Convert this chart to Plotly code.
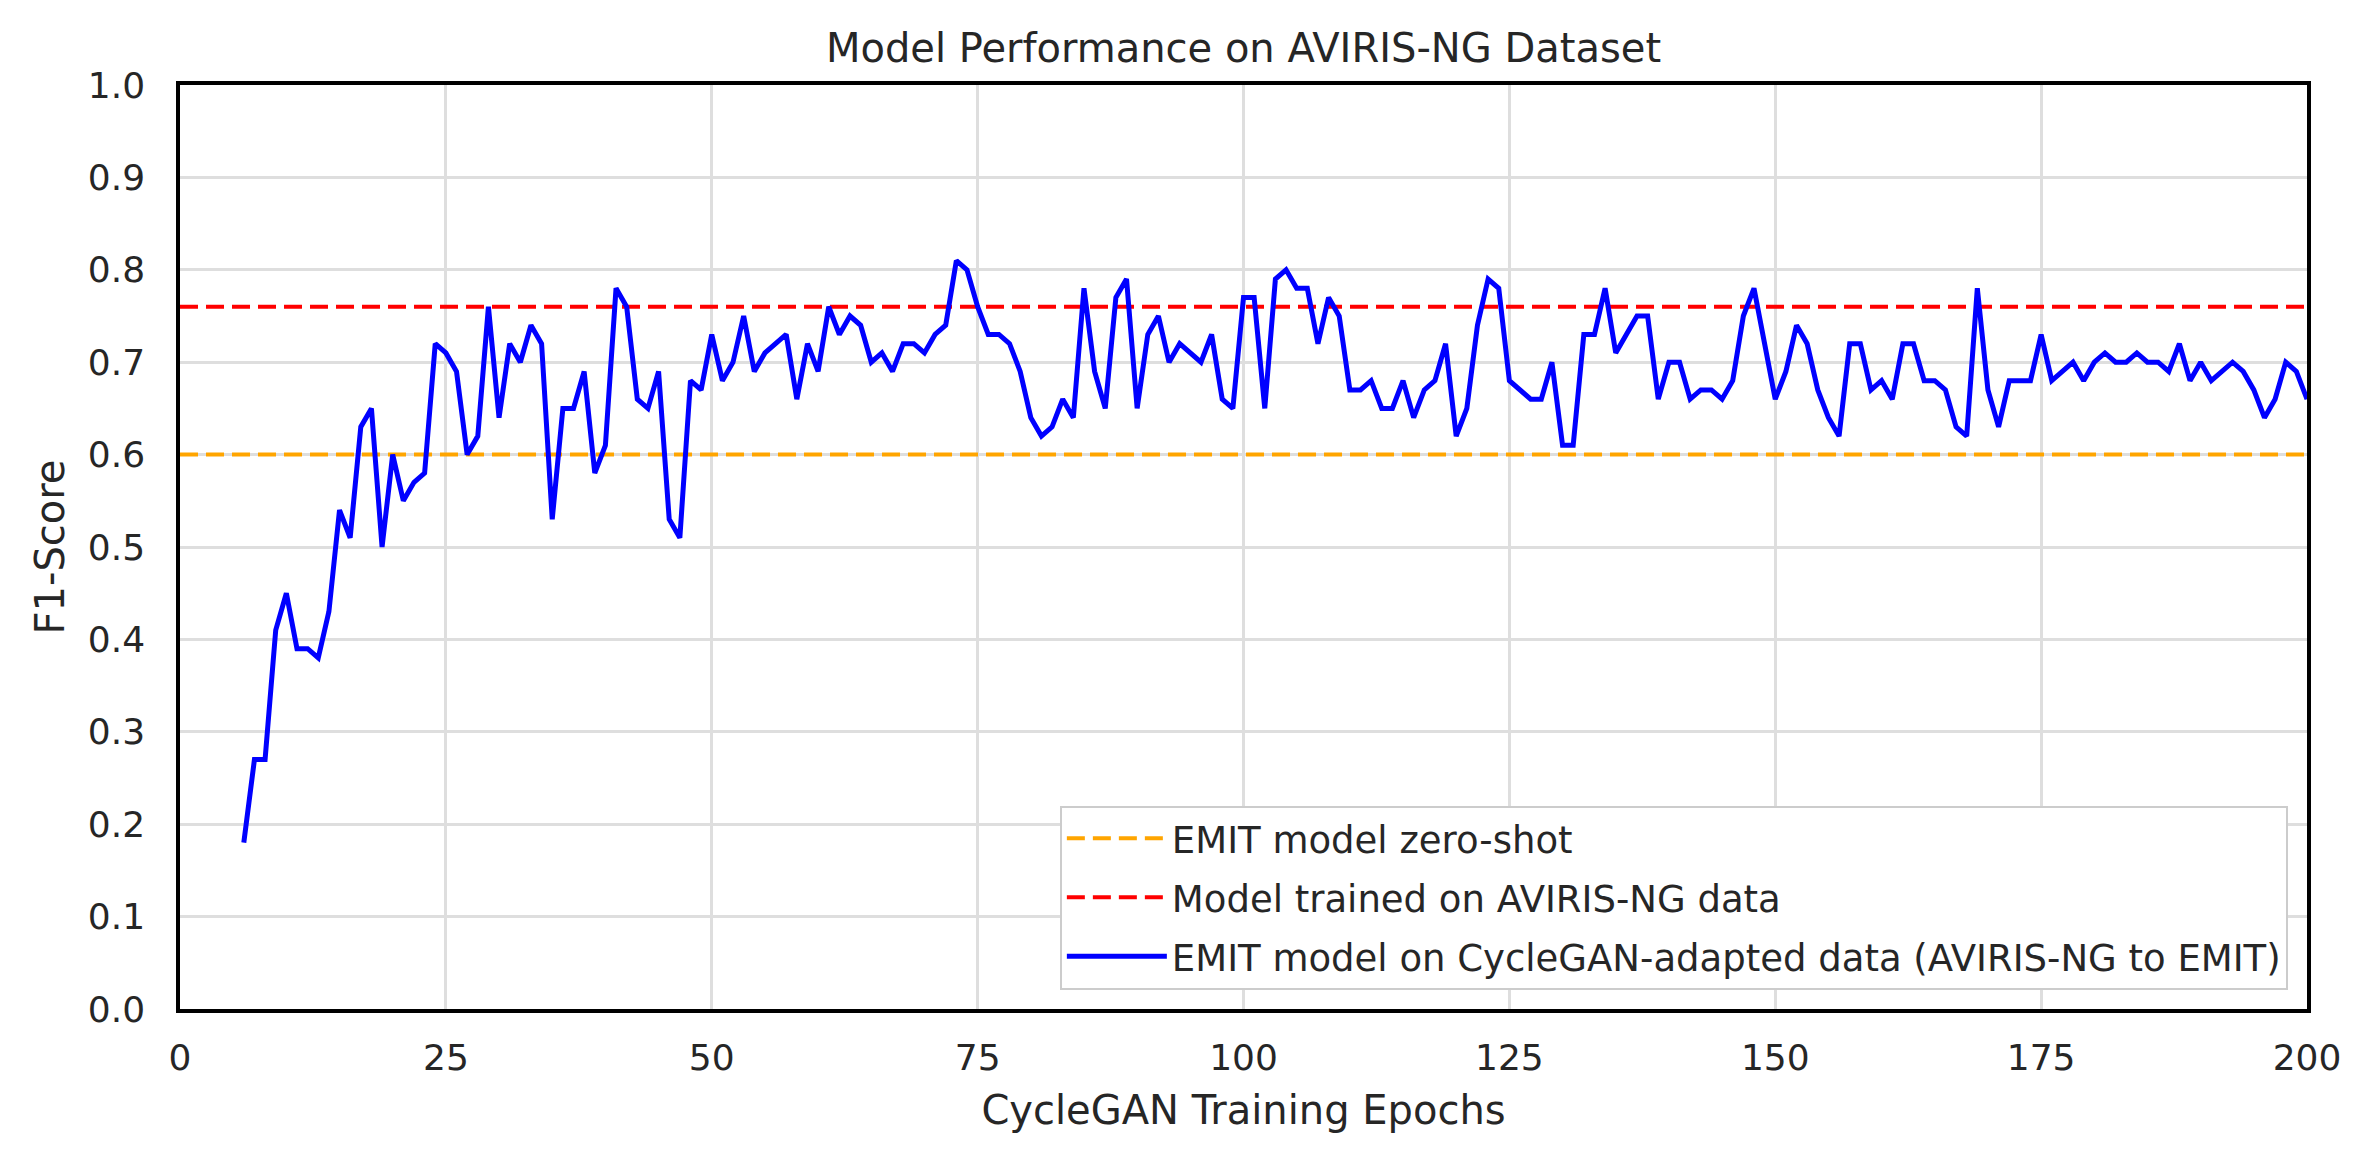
import plotly.graph_objects as go

# ---- data ----
epochs = list(range(6, 201))
f1_cyclegan = [
    0.18, 0.27, 0.27, 0.41, 0.45, 0.39, 0.39, 0.38, 0.43, 0.54,   # 6-15
    0.51, 0.63, 0.65, 0.50, 0.60, 0.55, 0.57, 0.58, 0.72, 0.71,   # 16-25
    0.69, 0.60, 0.62, 0.76, 0.64, 0.72, 0.70, 0.74, 0.72, 0.53,   # 26-35
    0.65, 0.65, 0.69, 0.58, 0.61, 0.78, 0.76, 0.66, 0.65, 0.69,   # 36-45
    0.53, 0.51, 0.68, 0.67, 0.73, 0.68, 0.70, 0.75, 0.69, 0.71,   # 46-55
    0.72, 0.73, 0.66, 0.72, 0.69, 0.76, 0.73, 0.75, 0.74, 0.70,   # 56-65
    0.71, 0.69, 0.72, 0.72, 0.71, 0.73, 0.74, 0.81, 0.80, 0.76,   # 66-75
    0.73, 0.73, 0.72, 0.69, 0.64, 0.62, 0.63, 0.66, 0.64, 0.78,   # 76-85
    0.69, 0.65, 0.77, 0.79, 0.65, 0.73, 0.75, 0.70, 0.72, 0.71,   # 86-95
    0.70, 0.73, 0.66, 0.65, 0.77, 0.77, 0.65, 0.79, 0.80, 0.78,   # 96-105
    0.78, 0.72, 0.77, 0.75, 0.67, 0.67, 0.68, 0.65, 0.65, 0.68,   # 106-115
    0.64, 0.67, 0.68, 0.72, 0.62, 0.65, 0.74, 0.79, 0.78, 0.68,   # 116-125
    0.67, 0.66, 0.66, 0.70, 0.61, 0.61, 0.73, 0.73, 0.78, 0.71,   # 126-135
    0.73, 0.75, 0.75, 0.66, 0.70, 0.70, 0.66, 0.67, 0.67, 0.66,   # 136-145
    0.68, 0.75, 0.78, 0.72, 0.66, 0.69, 0.74, 0.72, 0.67, 0.64,   # 146-155
    0.62, 0.72, 0.72, 0.67, 0.68, 0.66, 0.72, 0.72, 0.68, 0.68,   # 156-165
    0.67, 0.63, 0.62, 0.78, 0.67, 0.63, 0.68, 0.68, 0.68, 0.73,   # 166-175
    0.68, 0.69, 0.70, 0.68, 0.70, 0.71, 0.70, 0.70, 0.71, 0.70,   # 176-185
    0.70, 0.69, 0.72, 0.68, 0.70, 0.68, 0.69, 0.70, 0.69, 0.67,   # 186-195
    0.64, 0.66, 0.70, 0.69, 0.66,                                 # 196-200
]
baseline_span = [0, 200]
emit_zero_shot = 0.60
aviris_trained = 0.76

series_names = [
    "EMIT model zero-shot",
    "Model trained on AVIRIS-NG data",
    "EMIT model on CycleGAN-adapted data (AVIRIS-NG to EMIT)",
]
x_ticks = [0, 25, 50, 75, 100, 125, 150, 175, 200]
y_ticks = [0.0, 0.1, 0.2, 0.3, 0.4, 0.5, 0.6, 0.7, 0.8, 0.9, 1.0]

FONT = "DejaVu Sans"
TXT = "#262626"
# page body has an 8px default margin; compensate so the plot sits where it should
OFF = 8
W, H = 2372 - OFF, 1166 - OFF
ML, MR, MT, MB = 180 - OFF, 65, 85 - OFF, 157

fig = go.Figure()
fig.add_trace(go.Scatter(
    x=baseline_span, y=[emit_zero_shot] * 2, mode="lines",
    name=series_names[0], legendgroup="a",
    line=dict(color="orange", width=4, dash="18px,8px"),
))
fig.add_trace(go.Scatter(
    x=baseline_span, y=[aviris_trained] * 2, mode="lines",
    name=series_names[1], legendgroup="b",
    line=dict(color="red", width=4, dash="18px,8px"),
))
fig.add_trace(go.Scatter(
    x=epochs, y=f1_cyclegan, mode="lines",
    name=series_names[2], legendgroup="c",
    line=dict(color="blue", width=5),
))

axis_common = dict(
    showgrid=True, gridcolor="#dedede", gridwidth=2.5,
    showline=True, linecolor="black", linewidth=3.5, mirror=True,
    zeroline=False, ticks="",
    tickfont=dict(family=FONT, size=36, color=TXT),
)

fig.update_xaxes(
    range=[0, 200], tickvals=x_ticks, ticktext=[str(v) for v in x_ticks],
    title=dict(text="CycleGAN Training Epochs",
               font=dict(family=FONT, size=40, color=TXT), standoff=20),
    ticklabelstandoff=14,
    **axis_common,
)
fig.update_yaxes(
    range=[0, 1], tickvals=y_ticks, ticktext=[f"{v:.1f}" for v in y_ticks],
    title=dict(text="F1-Score",
               font=dict(family=FONT, size=40, color=TXT), standoff=12),
    ticklabelstandoff=24,
    **axis_common,
)

fig.update_layout(
    width=W, height=H,
    margin=dict(l=ML, r=MR, t=MT, b=MB, autoexpand=False),
    paper_bgcolor="white", plot_bgcolor="white",
    title=dict(text="Model Performance on AVIRIS-NG Dataset",
               font=dict(family=FONT, size=40, color=TXT),
               x=0.5, xref="paper", xanchor="center",
               y=1 - (48 - OFF) / H, yref="container", yanchor="middle"),
    legend=dict(
        x=0.991, y=0.021, xanchor="right", yanchor="bottom",
        bgcolor="white", bordercolor="#cccccc", borderwidth=2,
        font=dict(family=FONT, size=37, color=TXT),
        itemwidth=100, tracegroupgap=8,
    ),
    showlegend=True,
)

fig.write_html("out.html")
